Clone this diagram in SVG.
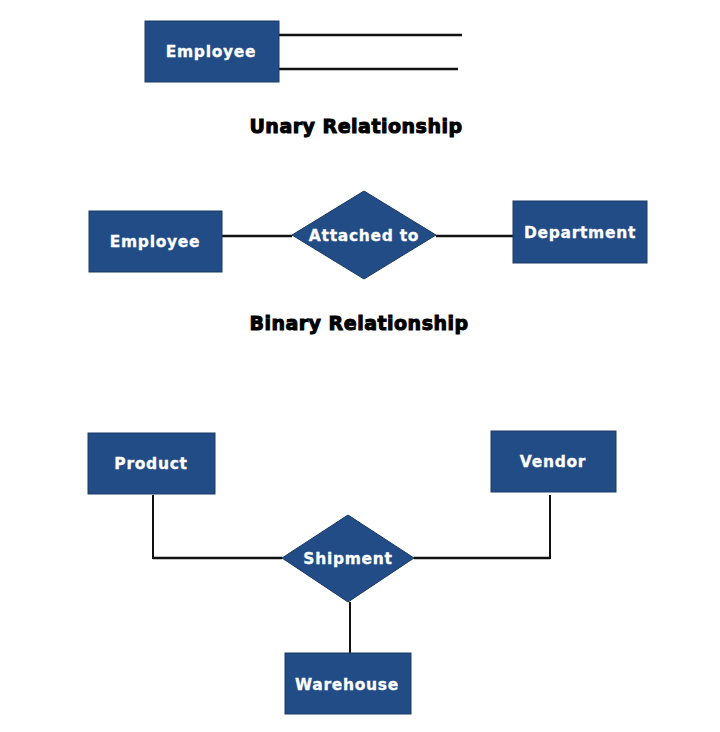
<svg xmlns="http://www.w3.org/2000/svg" width="720" height="732" viewBox="0 0 720 732">
<style>
.ent{fill:#214c85;stroke:#1a3a66;stroke-width:1}
.rel{fill:#214c85;stroke:#1a3a66;stroke-width:1}
.lbl{font-family:"DejaVu Sans",Verdana,sans-serif;font-weight:bold;font-size:15.5px;letter-spacing:0.7px;fill:#ffffff;stroke:#ffffff;stroke-width:0.3;text-anchor:middle}
.ttl{font-family:"DejaVu Sans",Verdana,sans-serif;font-weight:900;font-size:19px;letter-spacing:0.5px;fill:#000000;stroke:#000000;stroke-width:1;text-anchor:middle}
.ln{stroke:#111111;stroke-width:2.5;fill:none}
</style>
<rect width="720" height="732" fill="#ffffff"/>
<g id="connectors">
<line class="ln" x1="279" y1="35" x2="462" y2="35"/>
<line class="ln" x1="279" y1="69" x2="458" y2="69"/>
<line class="ln" x1="222" y1="236" x2="292" y2="236"/>
<line class="ln" x1="436" y1="236" x2="513" y2="236"/>
<polyline class="ln" points="153,495 153,558 282,558" style="stroke-width:2"/>
<line class="ln" x1="153" y1="558" x2="282" y2="558"/>
<polyline class="ln" points="414,558 550,558 550,495" style="stroke-width:2"/>
<line class="ln" x1="414" y1="558" x2="550" y2="558"/>
<line class="ln" x1="350" y1="602" x2="350" y2="653" style="stroke-width:2"/>
</g>
<g id="employee-unary">
<rect class="ent" x="145" y="21" width="134" height="61"/>
<text class="lbl" x="211" y="57">Employee</text>
</g>
<text class="ttl" x="356" y="133">Unary Relationship</text>
<g id="employee-binary">
<rect class="ent" x="89" y="211" width="133" height="61"/>
<text class="lbl" x="155" y="247">Employee</text>
</g>
<g id="attached-to">
<polygon class="rel" points="364,191 436,235 364,279 292,235"/>
<text class="lbl" x="364" y="241">Attached to</text>
</g>
<g id="department">
<rect class="ent" x="513" y="201" width="134" height="62"/>
<text class="lbl" x="580" y="238">Department</text>
</g>
<text class="ttl" x="359" y="330">Binary Relationship</text>
<g id="product">
<rect class="ent" x="88" y="433" width="127" height="61"/>
<text class="lbl" x="151" y="469">Product</text>
</g>
<g id="vendor">
<rect class="ent" x="491" y="431" width="125" height="61"/>
<text class="lbl" x="553" y="467">Vendor</text>
</g>
<g id="shipment">
<polygon class="rel" points="348,515 414,558 348,602 282,558"/>
<text class="lbl" x="348" y="564">Shipment</text>
</g>
<g id="warehouse">
<rect class="ent" x="285" y="653" width="126" height="61"/>
<text class="lbl" x="347" y="690">Warehouse</text>
</g>
</svg>
